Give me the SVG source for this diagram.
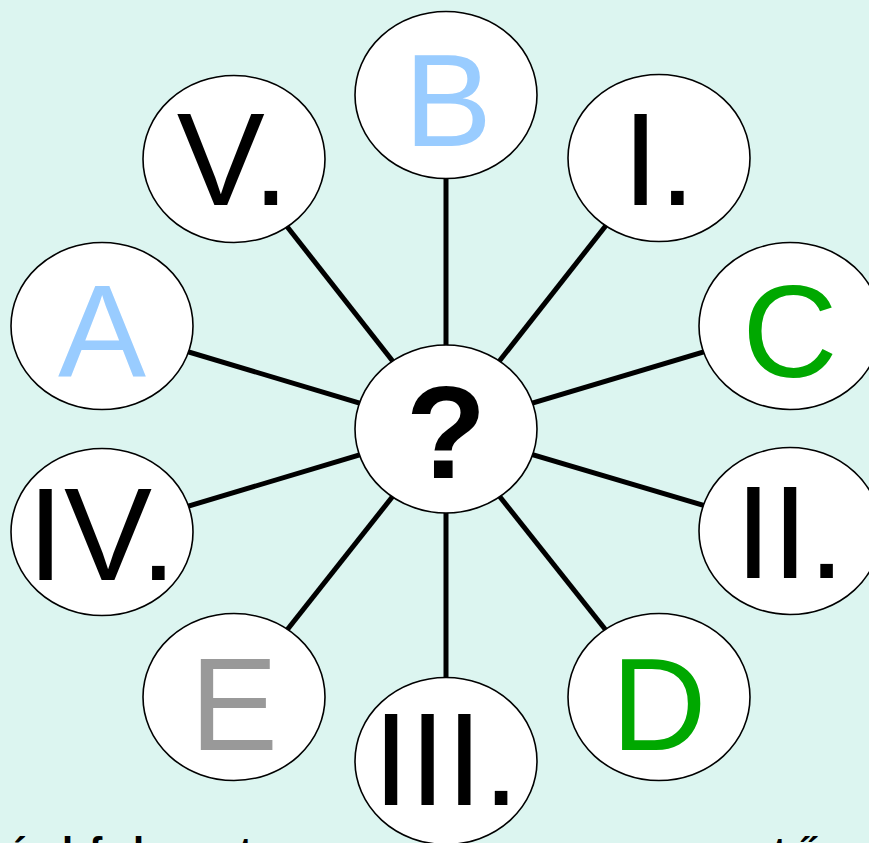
<svg xmlns="http://www.w3.org/2000/svg" width="869" height="843" viewBox="0 0 869 843">
<defs>
<style>
.node ellipse{fill:#ffffff;stroke:#000000;stroke-width:1.6}
.lbl{font-family:"Liberation Sans",Arial,sans-serif;font-size:132px;text-anchor:middle}
.blue{fill:#99CCFF}
.green{fill:#00A800}
.gray{fill:#999999}
.black{fill:#000000}
#connectors line{stroke:#000000;stroke-width:5}
.foot{font-family:"Liberation Sans",Arial,sans-serif;font-size:40px;font-weight:bold;fill:#000000}
</style>
</defs>
<rect x="0" y="0" width="869" height="843" fill="#DCF5F0"/>
<g id="connectors">
<line x1="446" y1="429" x2="446" y2="95"/>
<line x1="446" y1="429" x2="659" y2="158"/>
<line x1="446" y1="429" x2="790" y2="326"/>
<line x1="446" y1="429" x2="790" y2="531"/>
<line x1="446" y1="429" x2="659" y2="697"/>
<line x1="446" y1="429" x2="446" y2="761"/>
<line x1="446" y1="429" x2="234" y2="697"/>
<line x1="446" y1="429" x2="102" y2="532"/>
<line x1="446" y1="429" x2="102" y2="326"/>
<line x1="446" y1="429" x2="234" y2="159"/>
</g>
<g id="node-center" class="node"><ellipse cx="446" cy="429" rx="91" ry="84"/><text class="lbl black" x="446" y="478" style="font-weight:bold">?</text></g>
<g id="node-B" class="node"><ellipse cx="446" cy="95" rx="91" ry="83.5"/><text class="lbl blue" x="448" y="146">B</text></g>
<g id="node-I" class="node"><ellipse cx="659" cy="158" rx="91" ry="83.5"/><text class="lbl black" x="659" y="205">I.</text></g>
<g id="node-C" class="node"><ellipse cx="790" cy="326" rx="91" ry="83.5"/><text class="lbl green" x="790" y="377">C</text></g>
<g id="node-II" class="node"><ellipse cx="790" cy="531" rx="91" ry="83.5"/><text class="lbl black" x="790" y="578">II.</text></g>
<g id="node-D" class="node"><ellipse cx="659" cy="697" rx="91" ry="83.5"/><text class="lbl green" x="659" y="750">D</text></g>
<g id="node-III" class="node"><ellipse cx="446" cy="761" rx="91" ry="83.5"/><text class="lbl black" x="446" y="805">III.</text></g>
<g id="node-E" class="node"><ellipse cx="234" cy="697" rx="91" ry="83.5"/><text class="lbl gray" x="234" y="750">E</text></g>
<g id="node-IV" class="node"><ellipse cx="102" cy="532" rx="91" ry="83.5"/><text class="lbl black" x="102" y="580">IV.</text></g>
<g id="node-A" class="node"><ellipse cx="102" cy="326" rx="91" ry="83.5"/><text class="lbl blue" x="102" y="377">A</text></g>
<g id="node-V" class="node"><ellipse cx="234" cy="159" rx="91" ry="83.5"/><text class="lbl black" x="233" y="205">V.</text></g>
<text class="foot" x="6 62 89 133 239 773 795" y="866">ólflttő</text>
</svg>
